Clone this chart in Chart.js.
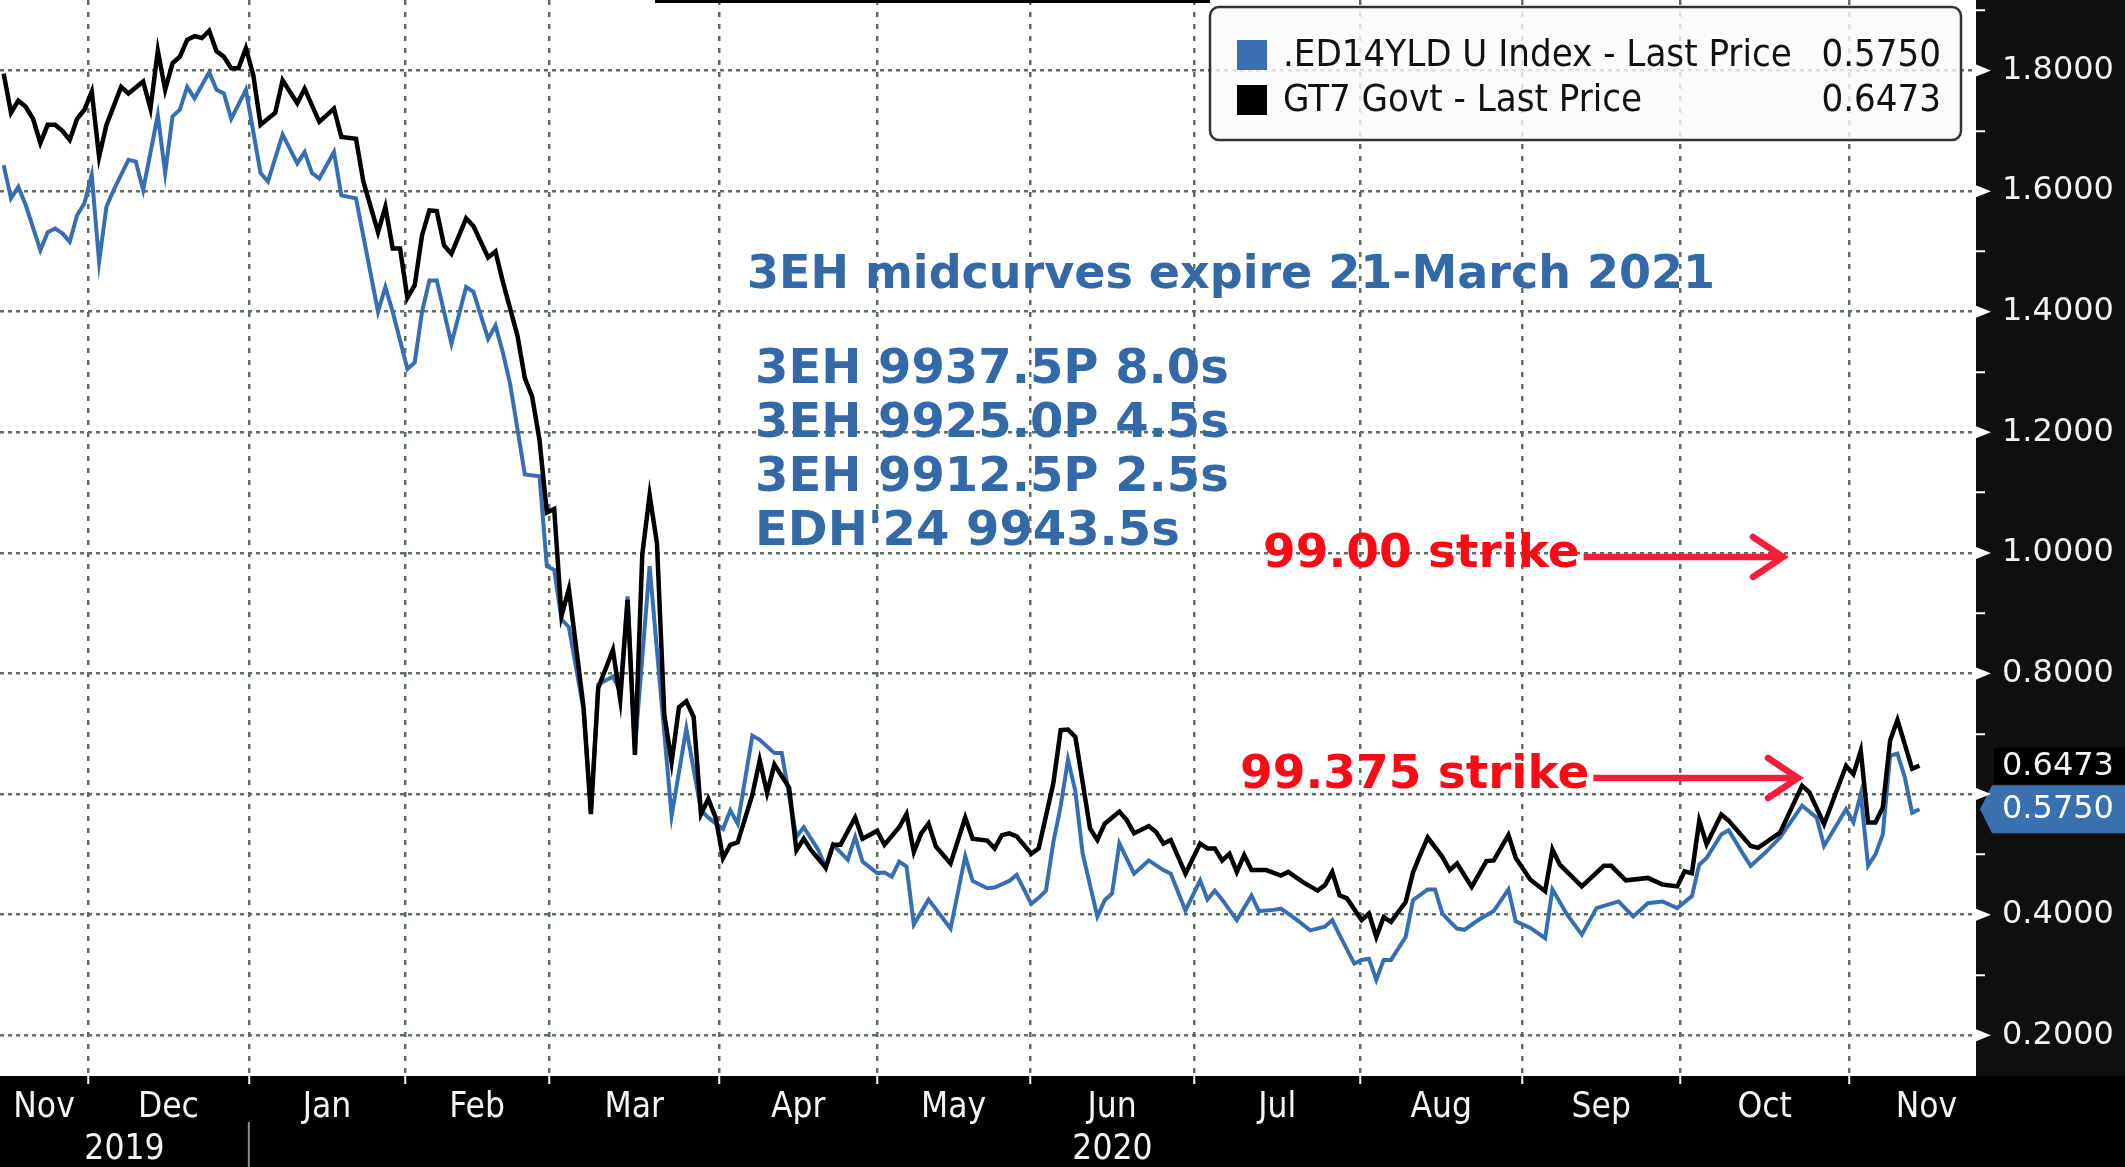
<!DOCTYPE html>
<html>
<head>
<meta charset="utf-8">
<title>ED14YLD vs GT7</title>
<script src="https://cdn.jsdelivr.net/npm/chart.js@4.4.1/dist/chart.umd.min.js"></script>
<style>
  html, body { margin: 0; padding: 0; background: #000; }
  canvas { display: block; }
</style>
</head>
<body>
<canvas id="chart" width="2125" height="1167"></canvas>
<script>
// x = trading session number, counted from 14-Nov-2019 (session 0)
const ed14Days = [0,1,2,3,5,6,7,8,9,10,11,12,13,14,15,17,18,19,21,22,23,24,25,26,28,29,30,31,33,35,36,38,40,41,42,43,45,46,48,
  51,52,53,55,56,57,58,59,61,63,64,66,67,68,69,71,73,74,75,76,77,79,80,81,83,84,85,86,88,89,91,93,95,96,98,99,100,
  102,103,105,106,108,109,111,112,113,115,116,117,119,120,121,122,123,124,126,129,131,132,134,135,137,138,140,141,142,
  143,144,145,146,147,149,150,151,152,154,156,158,159,161,163,164,165,166,168,170,171,173,174,176,178,180,181,182,184,
  185,186,187,188,189,191,192,194,195,196,197,198,199,201,203,205,206,208,210,211,213,215,217,220,222,224,226,228,230,
  231,232,234,235,237,238,240,242,245,247,248,251,252,253,254,255,256,257,258,259,260,261];
const ed14Yield = [1.643,1.588,1.607,1.577,1.502,1.532,1.538,1.530,1.516,1.560,1.580,1.627,1.483,1.574,1.602,1.652,1.649,1.602,
  1.726,1.630,1.724,1.735,1.773,1.754,1.797,1.768,1.762,1.720,1.768,1.630,1.616,1.694,1.646,1.665,1.630,1.621,1.665,1.593,1.588,
  1.400,1.441,1.400,1.305,1.316,1.400,1.452,1.452,1.347,1.441,1.433,1.355,1.377,1.333,1.280,1.130,1.127,0.978,0.972,0.890,0.877,
  0.740,0.570,0.782,0.795,0.770,0.928,0.675,0.978,0.839,0.564,0.709,0.573,0.561,0.542,0.573,0.551,
  0.697,0.690,0.668,0.668,0.529,0.545,0.507,0.478,0.516,0.491,0.529,0.488,0.469,0.470,0.463,0.488,0.480,0.384,0.425,0.377,
  0.497,0.456,0.444,0.445,0.456,0.466,0.418,0.428,0.440,
  0.520,0.580,0.657,0.605,0.501,0.397,0.424,0.435,0.518,0.468,0.490,0.474,0.468,0.407,0.457,0.425,0.440,0.425,0.391,0.432,
  0.406,0.408,0.410,0.393,0.374,0.380,0.391,0.366,0.319,
  0.325,0.327,0.292,0.325,0.325,0.363,0.424,0.442,0.442,0.402,0.389,0.377,0.375,0.392,0.406,0.442,0.389,0.378,0.361,0.442,
  0.400,0.367,0.411,0.422,0.397,0.419,0.422,0.411,0.431,
  0.483,0.494,0.533,0.540,0.500,0.481,0.503,0.528,0.581,0.561,0.514,0.575,0.553,0.600,0.481,0.500,0.533,0.664,0.667,0.628,
  0.569,0.575];

const gt7Days = [0,1,2,3,4,5,6,7,8,9,10,11,12,13,14,16,17,19,20,21,22,23,24,25,26,27,28,29,30,31,32,33,34,35,37,38,40,41,43,45,
  46,48,49,51,52,53,54,55,56,57,58,59,60,61,63,64,66,67,68,70,71,72,73,74,75,76,77,79,80,81,83,84,85,86,87,88,89,90,91,92,
  93,94,95,96,97,98,99,100,102,103,104,105,107,108,109,110,112,113,114,116,117,119,120,122,123,124,125,126,127,129,131,132,
  134,135,136,137,138,140,141,143,144,145,146,148,149,150,152,153,154,156,157,158,159,161,163,164,165,166,167,168,169,170,
  172,174,175,177,179,180,181,182,183,185,186,187,188,189,191,192,193,194,196,197,198,200,202,203,205,206,208,210,211,212,
  215,218,219,221,224,226,228,229,230,231,232,234,235,238,239,242,245,246,248,251,252,253,254,255,256,257,258,260,261];
const gt7Yield = [1.795,1.730,1.750,1.740,1.720,1.680,1.710,1.710,1.700,1.685,1.720,1.735,1.765,1.657,1.710,1.773,1.762,1.782,
  1.737,1.833,1.768,1.812,1.823,1.851,1.857,1.854,1.866,1.832,1.823,1.804,1.804,1.837,1.793,1.710,1.730,1.784,1.746,1.770,
  1.715,1.737,1.690,1.687,1.616,1.532,1.574,1.505,1.505,1.423,1.444,1.527,1.568,1.567,1.510,1.496,1.555,1.542,1.490,1.500,
  1.450,1.360,1.290,1.259,1.187,1.067,1.073,0.896,0.940,0.744,0.567,0.776,0.839,0.757,0.922,0.665,0.997,1.096,1.016,0.732,
  0.653,0.744,0.754,0.728,0.567,0.592,0.561,0.494,0.516,0.520,0.599,0.656,0.602,0.649,0.611,0.507,0.526,0.507,0.478,0.516,
  0.516,0.561,0.526,0.539,0.516,0.545,0.567,0.504,0.535,0.551,0.513,0.485,0.561,0.526,0.523,0.510,0.532,0.535,0.530,0.501,
  0.510,0.618,0.706,0.707,0.695,0.543,0.524,0.551,0.571,0.557,0.535,0.547,0.537,0.518,0.524,0.468,0.518,0.510,0.510,0.490,
  0.501,0.471,0.499,0.474,0.474,0.465,0.471,0.454,0.440,0.449,0.471,0.432,0.427,0.391,0.402,0.363,0.396,0.388,0.421,0.470,
  0.500,0.528,0.496,0.474,0.485,0.446,0.489,0.490,0.532,0.494,0.458,0.439,0.508,0.483,0.447,0.481,0.481,0.457,0.461,0.450,
  0.447,0.472,0.469,0.556,0.517,0.566,0.556,0.514,0.511,0.536,0.614,0.603,0.550,0.647,0.633,0.672,0.553,0.553,0.578,0.689,
  0.723,0.642,0.6473];

// month boundaries in session units (first and last entries bound the end months)
const monthNames = ['Nov','Dec','Jan','Feb','Mar','Apr','May','Jun','Jul','Aug','Sep','Oct','Nov'];
const monthEdges = [-0.5, 11.5, 33.4, 54.7, 74.3, 97.5, 119.0, 139.8, 162.2, 184.8, 206.9, 228.4, 251.4, 272.5];
const yearNames = ['2019', '2020'];
const yearEdges = [-0.5, 33.4, 268.7];
const yTickValues = [0.2,0.3,0.4,0.5,0.6,0.7,0.8,0.9,1.0,1.1,1.2,1.3,1.4,1.5,1.6,1.7,1.8,1.9];

const noteTitle = '3EH midcurves expire 21-March 2021';
const noteLines = ['3EH 9937.5P 8.0s', '3EH 9925.0P 4.5s', '3EH 9912.5P 2.5s', "EDH'24 9943.5s"];
const strikeLabels = ['99.00 strike', '99.375 strike'];
const strikeLevels = [1.00, 0.625];

const X_MIN = -0.5, X_MAX = 268.7;
const Y_MIN = 0.1325, Y_MAX = 1.917;

const GRID_COLOR = '#5f6f5f';
const BLUE = '#356fb2';
const NOTE_BLUE = '#3469a8';
const RED = '#fa0a14';
const ARROW_RED = '#f41e3c';

function fontAvailable(name) {
    const c = document.createElement('canvas').getContext('2d');
    const probe = 'mmmmwwwiiil0123';
    c.font = '40px monospace';
    const base = c.measureText(probe).width;
    c.font = '40px "' + name + '", monospace';
    return c.measureText(probe).width !== base;
}
const NARROW = fontAvailable('DejaVu Sans Condensed')
    ? '"DejaVu Sans Condensed", "DejaVu Sans", sans-serif'
    : '"Liberation Sans Narrow", "DejaVu Sans", sans-serif';

const isMajor = v => Math.round(v * 10) % 2 === 0;
const lastBlue = ed14Yield[ed14Yield.length - 1];
const lastBlack = gt7Yield[gt7Yield.length - 1];

// x ticks: month boundaries carry grid lines, month/year midpoints carry labels
const xTicks = [];
monthEdges.slice(1, -1).forEach(v => xTicks.push({ value: v, label: '', grid: true }));
monthNames.forEach((m, i) => xTicks.push({ value: (monthEdges[i] + monthEdges[i + 1]) / 2, label: m, grid: false }));
yearNames.forEach((yr, i) => xTicks.push({ value: (yearEdges[i] + yearEdges[i + 1]) / 2, label: ['', yr], grid: false }));
xTicks.sort((a, b) => a.value - b.value);

const overlay = {
    id: 'overlay',
    beforeDraw(chart) {
        const { ctx, chartArea: a, width, height } = chart;
        ctx.save();
        ctx.fillStyle = '#000';
        ctx.fillRect(0, 0, width, height);
        ctx.fillStyle = '#0f0f0f';
        ctx.fillRect(a.right, 0, width - a.right, a.bottom);
        ctx.fillStyle = '#fff';
        ctx.fillRect(a.left, a.top, a.right - a.left, a.bottom - a.top);
        ctx.restore();
    },
    afterDraw(chart) {
        const { ctx, chartArea: a, scales: { x, y } } = chart;
        const W = chart.width;
        ctx.save();

        // remnant of a cut-off bar at the very top
        ctx.fillStyle = '#000';
        ctx.fillRect(655, 0, 555, 3);

        // year separator under the month labels
        const sx = x.getPixelForValue(yearEdges[1]);
        ctx.strokeStyle = '#8c8c8c';
        ctx.lineWidth = 2;
        ctx.beginPath();
        ctx.moveTo(sx, a.bottom + 46);
        ctx.lineTo(sx, chart.height);
        ctx.stroke();

        // last price tags
        ctx.font = '32px "DejaVu Sans"';
        ctx.textBaseline = 'middle';
        ctx.textAlign = 'left';
        const gy = y.getPixelForValue(lastBlack);
        ctx.fillStyle = '#000';
        ctx.fillRect(a.right + 18, gy - 18, W - a.right - 18, 36);
        ctx.fillStyle = '#f4f4f4';
        ctx.fillText(lastBlack.toFixed(4), a.right + 26, gy + 1);

        const by = y.getPixelForValue(lastBlue);
        ctx.beginPath();
        ctx.moveTo(a.right + 4, by);
        ctx.lineTo(a.right + 16, by - 24);
        ctx.lineTo(W, by - 24);
        ctx.lineTo(W, by + 24);
        ctx.lineTo(a.right + 16, by + 24);
        ctx.closePath();
        ctx.fillStyle = '#3a6fb0';
        ctx.fill();
        ctx.fillStyle = '#fff';
        ctx.fillText(lastBlue.toFixed(4), a.right + 26, by + 1);

        // pointer marks at the major y ticks
        ctx.fillStyle = '#fff';
        yTickValues.filter(isMajor).forEach(v => {
            const py = y.getPixelForValue(v);
            ctx.beginPath();
            ctx.moveTo(a.right, py - 6);
            ctx.lineTo(a.right + 15, py);
            ctx.lineTo(a.right, py + 6);
            ctx.closePath();
            ctx.fill();
        });

        // legend
        const L = { x: 1210, y: 7, w: 751, h: 133 };
        ctx.beginPath();
        ctx.roundRect(L.x, L.y, L.w, L.h, 9);
        ctx.fillStyle = 'rgba(250,250,250,0.82)';
        ctx.fill();
        ctx.lineWidth = 2.5;
        ctx.strokeStyle = '#333';
        ctx.stroke();
        const rows = [
            { color: '#3a6eb2', name: chart.data.datasets[1].label, val: lastBlue.toFixed(4) },
            { color: '#000', name: chart.data.datasets[0].label, val: lastBlack.toFixed(4) },
        ];
        ctx.font = '38px ' + NARROW;
        rows.forEach((r, i) => {
            const cy = 55 + i * 45;
            ctx.fillStyle = r.color;
            ctx.fillRect(1237, cy - 15, 30, 30);
            ctx.fillStyle = '#111';
            ctx.textAlign = 'left';
            ctx.fillText(r.name, 1283, cy + 1);
            ctx.textAlign = 'right';
            ctx.fillText(r.val, 1941, cy + 1);
        });

        // blue notes
        ctx.textAlign = 'left';
        ctx.fillStyle = NOTE_BLUE;
        ctx.font = 'bold 46px "DejaVu Sans"';
        ctx.fillText(noteTitle, 747, 276);
        ctx.font = 'bold 48px "DejaVu Sans"';
        noteLines.forEach((t, i) => ctx.fillText(t, 755, 371 + i * 54));

        // strike arrows
        const strikeTextX = [1263, 1240];
        const arrowEnd = [1783, 1798];
        ctx.font = 'bold 47px "DejaVu Sans"';
        strikeLabels.forEach((t, i) => {
            const py = y.getPixelForValue(strikeLevels[i]) + (i === 0 ? 2 : -3);
            ctx.fillStyle = RED;
            ctx.fillText(t, strikeTextX[i], py);
            const x0 = strikeTextX[i] + ctx.measureText(t).width + 4;
            const x1 = arrowEnd[i];
            ctx.strokeStyle = ARROW_RED;
            ctx.lineWidth = 6.5;
            ctx.lineCap = 'butt';
            ctx.lineJoin = 'miter';
            ctx.beginPath();
            ctx.moveTo(x0, py + 2);
            ctx.lineTo(x1 - 4, py + 2);
            ctx.stroke();
            ctx.lineCap = 'round';
            ctx.beginPath();
            ctx.moveTo(x1 - 30, py + 2 - 20);
            ctx.lineTo(x1, py + 2);
            ctx.lineTo(x1 - 30, py + 2 + 20);
            ctx.stroke();
        });

        ctx.restore();
    },
};

const toPoints = (days, vals) => days.map((d, i) => ({ x: d, y: vals[i] }));

new Chart(document.getElementById('chart'), {
    type: 'line',
    data: {
        datasets: [
            {
                label: 'GT7 Govt - Last Price',
                data: toPoints(gt7Days, gt7Yield),
                borderColor: '#000',
                borderWidth: 4.5,
                pointRadius: 0,
                tension: 0,
                order: 0,
            },
            {
                label: '.ED14YLD U Index - Last Price',
                data: toPoints(ed14Days, ed14Yield),
                borderColor: BLUE,
                borderWidth: 4,
                pointRadius: 0,
                tension: 0,
                order: 1,
            },
        ],
    },
    options: {
        responsive: false,
        animation: false,
        devicePixelRatio: 1,
        layout: { padding: 0 },
        plugins: { legend: { display: false }, tooltip: { enabled: false } },
        scales: {
            x: {
                type: 'linear',
                min: X_MIN,
                max: X_MAX,
                afterBuildTicks: s => { s.ticks = xTicks.map(t => ({ value: t.value })); },
                afterFit: s => {
                    s.height = 91;
                    s.paddingLeft = 0; s.paddingRight = 0;
                },
                grid: {
                    color: c => (xTicks[c.index] && xTicks[c.index].grid) ? GRID_COLOR : 'transparent',
                    lineWidth: 2.5,
                    drawTicks: true,
                    tickLength: 8,
                    tickWidth: 2,
                    tickColor: c => (xTicks[c.index] && xTicks[c.index].grid) ? '#fff' : 'transparent',
                },
                border: { display: false, dash: [5, 7] },
                ticks: {
                    autoSkip: false,
                    maxRotation: 0,
                    padding: 3,
                    color: '#f4f4f4',
                    font: { family: NARROW, size: 35, lineHeight: 1.2 },
                    callback: (v, i) => xTicks[i] ? xTicks[i].label : '',
                },
            },
            y: {
                position: 'right',
                min: Y_MIN,
                max: Y_MAX,
                afterBuildTicks: s => { s.ticks = yTickValues.map(v => ({ value: v })); },
                afterFit: s => {
                    s.width = 149;
                    s.paddingTop = 0; s.paddingBottom = 0;
                },
                grid: {
                    color: c => (c.tick && isMajor(c.tick.value)) ? GRID_COLOR : 'transparent',
                    lineWidth: 2.5,
                    drawTicks: true,
                    tickLength: 9,
                    tickWidth: 2,
                    tickColor: '#fff',
                },
                border: { display: false, dash: [4, 4] },
                ticks: {
                    padding: 17,
                    color: '#f2f2f2',
                    font: { family: '"DejaVu Sans", sans-serif', size: 32 },
                    callback: v => {
                        if (!isMajor(v)) return '';
                        if (Math.abs(v - lastBlack) < 0.07 || Math.abs(v - lastBlue) < 0.07) return '';
                        return v.toFixed(4);
                    },
                },
            },
        },
    },
    plugins: [overlay],
});
</script>
</body>
</html>
